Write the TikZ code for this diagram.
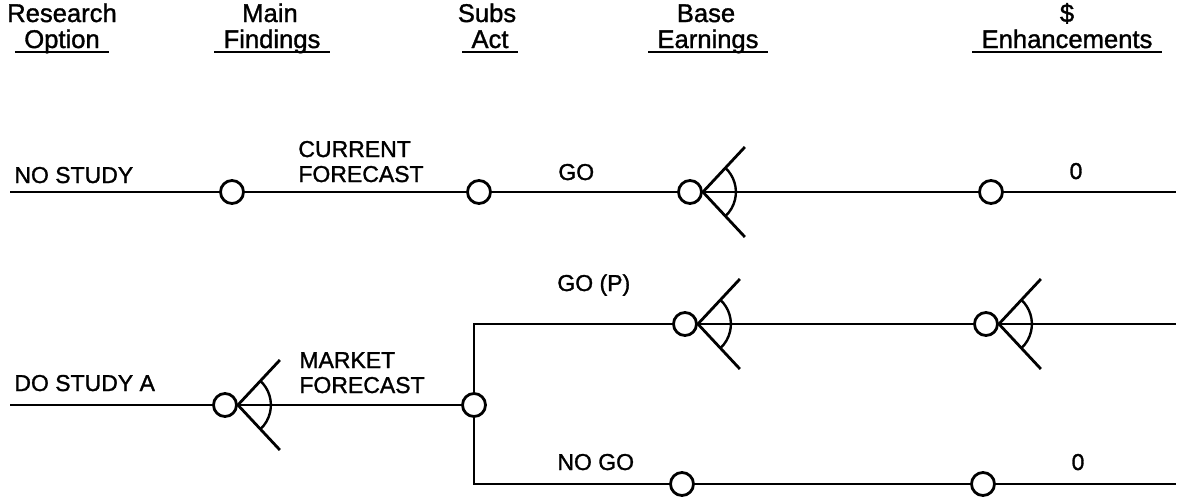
\documentclass[tikz,border=0pt]{standalone}
\usepackage{fontspec}
\setmainfont{Liberation Sans}[FakeBold=1.3]
\newcommand{\drawfan}[1]{%
  \draw (#1.east) -- ++(42,-45);
  \draw (#1.east) -- ++(42,45);
  \draw[line width=1.2pt] ([shift={(22.5,-24.1)}]#1.east) arc[start angle=47,end angle=-47,radius=16.5pt];}
\begin{document}
\begin{tikzpicture}[x=0.5pt,y=-0.5pt,line width=1.4pt,
  dot/.style={circle,draw,fill=white,minimum size=11.5pt,inner sep=0pt,line width=1.4pt},
  lbl/.style={font=\fontsize{11.5}{13}\selectfont,inner sep=0pt,anchor=base west},
  num/.style={font=\fontsize{11.5}{13}\selectfont,inner sep=0pt,anchor=base},
  hdr/.style={font=\fontsize{12.8}{15}\selectfont,inner sep=0pt,anchor=base},
  uline/.style={line width=1.1pt}]
\useasboundingbox (0,0) rectangle (1179,499);
% headers
\node[hdr] (h1a) at (62,22) {Research};
\node[hdr] (h1b) at (62,48) {Option};
\node[hdr] (h2a) at (270,22) {Main};
\node[hdr] (h2b) at (272,48) {Findings};
\node[hdr] (h3a) at (487,22) {Subs};
\node[hdr] (h3b) at (490,48) {Act};
\node[hdr] (h4a) at (706,22) {Base};
\node[hdr] (h4b) at (708,48) {Earnings};
\node[hdr] (h5a) at (1067,22) {\$};
\node[hdr] (h5b) at (1067,48) {Enhancements};
\foreach \h in {h1b,h2b,h3b,h4b,h5b}
  \draw[uline] ([xshift=-4pt,yshift=-2pt]\h.base west) -- ([xshift=4pt,yshift=-2pt]\h.base east);
% coordinates
\coordinate (s1) at (10,192);
\coordinate (e1) at (1176,192);
\coordinate (k1) at (474,324);
\coordinate (e2) at (1176,324);
\coordinate (s3) at (10,405);
\coordinate (k2) at (474,484);
\coordinate (e4) at (1176,484);
% nodes
\node[dot] (c1) at (232,192) {};
\node[dot] (c2) at (479,192) {};
\node[dot] (f1) at (690,192) {};
\node[dot] (c3) at (991,192) {};
\node[dot] (f2) at (685,324) {};
\node[dot] (f4) at (986,324) {};
\node[dot] (f3) at (225,405) {};
\node[dot] (c4) at (474,405) {};
\node[dot] (c5) at (682,484) {};
\node[dot] (c6) at (983,484) {};
% connectors
\draw (s1) -- (c1) -- (c2) -- (f1) -- (c3) -- (e1);
\draw (c4) -- (k1) -- (f2) -- (f4) -- (e2);
\draw (s3) -- (f3) -- (c4);
\draw (c4) -- (k2) -- (c5) -- (c6) -- (e4);
\drawfan{f1}
\drawfan{f2}
\drawfan{f4}
\drawfan{f3}
% labels
\node[lbl] (t1) at (13,183) {NO STUDY};
\node[lbl] (t2) at (297,157) {CURRENT};
\node[lbl] (t3) at (297,182) {FORECAST};
\node[lbl] (t4) at (557,180) {GO};
\node[num] (t5) at (1076,179) {0};
\node[lbl] (t6) at (556,291) {GO (P)};
\node[lbl] (t7) at (298,368) {MARKET};
\node[lbl] (t8) at (298,393) {FORECAST};
\node[lbl] (t9) at (13,391) {DO STUDY A};
\node[lbl] (t10) at (556,470) {NO GO};
\node[num] (t11) at (1078,470) {0};
\end{tikzpicture}
\end{document}
